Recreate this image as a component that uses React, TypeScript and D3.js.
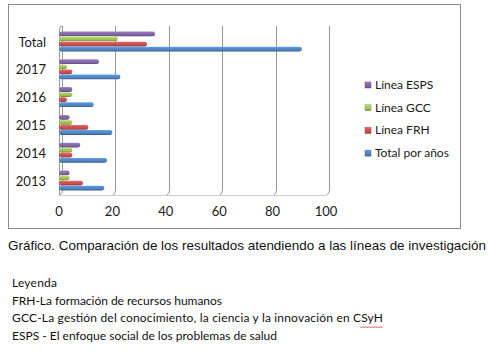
import { useRef, useEffect } from "react";
import * as d3 from "d3";

// categories top -> bottom
const categories = ["Total", "2017", "2016", "2015", "2014", "2013"];
// series top -> bottom inside each group
const seriesNames = ["Línea ESPS", "Línea GCC", "Línea FRH", "Total por años"];
const espsValues = [36, 15, 5, 4, 8, 4];
const gccValues = [22, 3, 5, 5, 5, 4];
const frhValues = [33, 5, 3, 11, 5, 9];
const totalValues = [91, 23, 13, 20, 18, 17];
const xTicks = [0, 20, 40, 60, 80, 100];
const seriesColors = ["#8064a2", "#9bbb59", "#c0504d", "#4f81bd"];

const caption =
  "Gráfico. Comparación de los resultados atendiendo a las líneas de investigación";
const notes = [
  "Leyenda",
  "FRH-La formación de recursos humanos",
  "GCC-La gestión del conocimiento, la ciencia y la innovación en CSyH",
  "ESPS - El enfoque social de los problemas de salud",
];

const W = 494;
const H = 359;

function drawChart(svgEl: SVGSVGElement) {
  const svg = d3.select(svgEl);
  svg.selectAll("*").remove();

  const allValues = [espsValues, gccValues, frhValues, totalValues];

  svg.append("rect").attr("width", W).attr("height", H).attr("fill", "#fff");

  // gradients for the cylinder look
  const defs = svg.append("defs");
  seriesColors.forEach((c, i) => {
    const g = defs
      .append("linearGradient")
      .attr("id", "grad" + i)
      .attr("x1", 0)
      .attr("y1", 0)
      .attr("x2", 0)
      .attr("y2", 1);
    const col = d3.color(c)!;
    g.append("stop").attr("offset", "0%").attr("stop-color", col.brighter(0.7).formatHex());
    g.append("stop").attr("offset", "35%").attr("stop-color", col.brighter(0.2).formatHex());
    g.append("stop").attr("offset", "70%").attr("stop-color", col.formatHex());
    g.append("stop").attr("offset", "100%").attr("stop-color", col.darker(1).formatHex());
  });

  // outer frame
  svg
    .append("rect")
    .attr("x", 8.5)
    .attr("y", 4.5)
    .attr("width", 452)
    .attr("height", 224)
    .attr("fill", "none")
    .attr("stroke", "#8c8c8c");

  const x = d3.scaleLinear().domain([0, 100]).range([59, 326]);
  const y = d3.scaleBand().domain(categories).range([27.6, 194.4]).paddingInner(0.26).paddingOuter(0.13);
  const yInner = d3.scaleBand().domain(seriesNames).range([0, y.bandwidth()]).padding(0.06);

  const depth = 3;
  const top = 26;
  const floor = 195;

  // gridlines (back wall) with a 3d bend at the bottom
  const grid = svg.append("g").attr("fill", "none").attr("stroke", "#979797");
  xTicks.forEach((t) => {
    const gx = Math.round(x(t) + depth) + 0.5;
    grid
      .append("path")
      .attr("d", `M${gx},${top} L${gx},${floor - 5} Q${gx},${floor - 1} ${gx - depth},${floor}`);
  });
  // left wall top bracket
  const lx = Math.round(x(0)) + 0.5;
  grid
    .append("path")
    .attr("d", `M${lx},${top + 4} Q${lx},${top} ${lx + depth},${top} M${lx},${top + 4} L${lx},${floor}`);
  grid
    .append("line")
    .attr("x1", lx)
    .attr("x2", x(100))
    .attr("y1", floor + 0.5)
    .attr("y2", floor + 0.5)
    .attr("stroke", "#cfcfcf");

  // bars
  const bars = svg.append("g");
  seriesNames.forEach((s, si) => {
    bars
      .selectAll(null)
      .data(allValues[si])
      .join("rect")
      .attr("x", x(0))
      .attr("y", (_, i) => (y(categories[i]) as number) + (yInner(s) as number))
      .attr("width", (d) => x(d) - x(0))
      .attr("height", yInner.bandwidth())
      .attr("rx", yInner.bandwidth() / 2)
      .attr("fill", `url(#grad${si})`);
  });

  // category labels
  svg
    .append("g")
    .selectAll("text")
    .data(categories)
    .join("text")
    .attr("x", 46)
    .attr("y", (d) => (y(d) as number) + y.bandwidth() / 2 + 5)
    .attr("text-anchor", "end")
    .attr("font-family", "Lato, 'Open Sans', sans-serif")
    .attr("font-size", 13)
    .attr("fill", "#1a1a1a")
    .text((d) => d);

  // x tick labels
  svg
    .append("g")
    .selectAll("text")
    .data(xTicks)
    .join("text")
    .attr("x", (d) => x(d))
    .attr("y", 215.5)
    .attr("text-anchor", "middle")
    .attr("font-family", "Lato, 'Open Sans', sans-serif")
    .attr("font-size", 13)
    .attr("fill", "#1a1a1a")
    .text((d) => d);

  // legend
  const legend = svg.append("g");
  seriesNames.forEach((s, i) => {
    const ly = 85 + i * 22.7;
    legend
      .append("rect")
      .attr("x", 365)
      .attr("y", ly - 3)
      .attr("width", 6)
      .attr("height", 6)
      .attr("fill", `url(#grad${i})`)
      .attr("stroke", d3.color(seriesColors[i])!.darker(0.4).formatHex())
      .attr("stroke-width", 0.5);
    legend
      .append("text")
      .attr("x", 375)
      .attr("y", ly + 4)
      .attr("font-family", "Lato, 'Open Sans', sans-serif")
      .attr("font-size", 12)
      .attr("fill", "#1a1a1a")
      .text(s);
  });

  // caption
  svg
    .append("text")
    .attr("x", 8)
    .attr("y", 249.5)
    .attr("font-family", "'Liberation Sans', Arial, sans-serif")
    .attr("font-size", 13.5)
    .attr("textLength", 478)
    .attr("lengthAdjust", "spacingAndGlyphs")
    .attr("fill", "#111")
    .text(caption);

  // notes
  const noteY = [287, 304.5, 322, 340];
  const noteW = [45, 210, 371, 265];
  notes.forEach((n, i) => {
    svg
      .append("text")
      .attr("x", 12)
      .attr("y", noteY[i])
      .attr("font-family", "Lato, 'Open Sans', sans-serif")
      .attr("font-size", 12)
      .attr("textLength", noteW[i])
      .attr("lengthAdjust", "spacing")
      .attr("fill", "#111")
      .text(n);
  });

  // spell-check squiggle under CSyH
  const sq: [number, number][] = d3.range(360, 384, 1.5).map((px, k) => [px, 327 + (k % 2 ? 1 : -0.5)]);
  svg
    .append("path")
    .attr("d", d3.line()(sq))
    .attr("fill", "none")
    .attr("stroke", "#e03030")
    .attr("stroke-width", 0.8);
}

export default function App() {
  const ref = useRef<SVGSVGElement>(null);

  useEffect(() => {
    if (ref.current) drawChart(ref.current);
  }, []);

  return (
    <svg
      ref={ref}
      width={W}
      height={H}
      style={{ position: "absolute", left: 0, top: 0, display: "block" }}
    />
  );
}
